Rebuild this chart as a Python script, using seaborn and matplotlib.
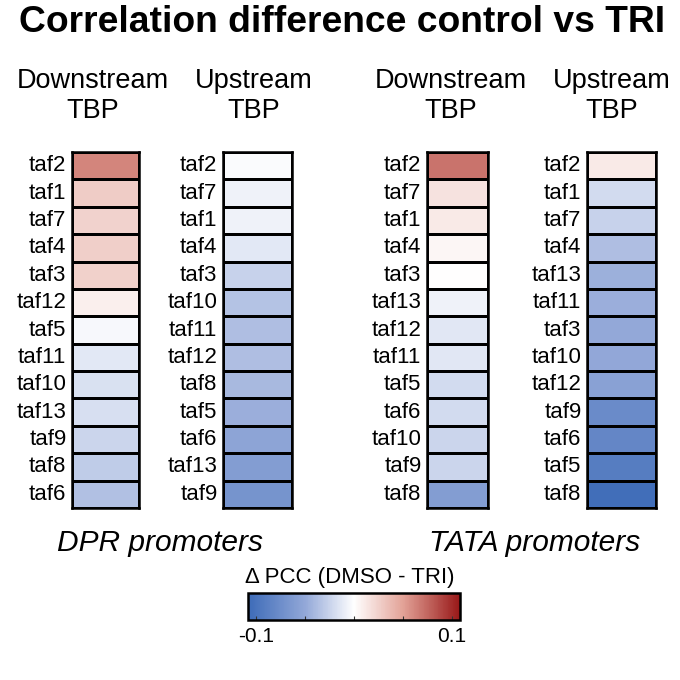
import numpy as np
import pandas as pd
import matplotlib
matplotlib.use("Agg")
import matplotlib.pyplot as plt
import seaborn as sns
from matplotlib.colors import LinearSegmentedColormap, Normalize
from matplotlib.cm import ScalarMappable

# ---------------- data ----------------
dpr_down_labels = ["taf2", "taf1", "taf7", "taf4", "taf3", "taf12", "taf5",
                   "taf11", "taf10", "taf13", "taf9", "taf8", "taf6"]
dpr_down_values = [0.062, 0.027, 0.024, 0.026, 0.025, 0.009, -0.004,
                   -0.013, -0.017, -0.018, -0.024, -0.029, -0.036]

dpr_up_labels = ["taf2", "taf7", "taf1", "taf4", "taf3", "taf10", "taf11",
                 "taf12", "taf8", "taf5", "taf6", "taf13", "taf9"]
dpr_up_values = [-0.002, -0.0075, -0.007, -0.013, -0.026, -0.034, -0.037,
                 -0.037, -0.040, -0.046, -0.054, -0.060, -0.069]

tata_down_labels = ["taf2", "taf7", "taf1", "taf4", "taf3", "taf13", "taf12",
                    "taf11", "taf5", "taf6", "taf10", "taf9", "taf8"]
tata_down_values = [0.070, 0.016, 0.011, 0.005, 0.000, -0.007, -0.014,
                    -0.014, -0.021, -0.021, -0.024, -0.024, -0.060]

tata_up_labels = ["taf2", "taf1", "taf7", "taf4", "taf13", "taf11", "taf3",
                  "taf10", "taf12", "taf9", "taf6", "taf5", "taf8"]
tata_up_values = [0.011, -0.021, -0.026, -0.037, -0.045, -0.046, -0.049,
                  -0.050, -0.056, -0.077, -0.081, -0.091, -0.105]

cbar_ticks = [-0.1, -0.05, 0.0, 0.05, 0.1]
cbar_ticklabels = ["-0.1", "", "", "", "0.1"]
vlim = 0.108

FONT = "Liberation Sans"
plt.rcParams["font.family"] = [FONT, "DejaVu Sans"]

cmap = LinearSegmentedColormap.from_list(
    "dpcc",
    [(0.0, "#3d6bb8"), (0.27, "#93a8d8"), (0.5, "#ffffff"),
     (0.73, "#e3a398"), (1.0, "#981818")])

fig = plt.figure(figsize=(6.8, 6.8), dpi=100)
W = H = 680.0

def box(x0, y0, x1, y1):
    return [x0 / W, 1 - y1 / H, (x1 - x0) / W, (y1 - y0) / H]

panels = [
    (dpr_down_labels, dpr_down_values, box(72, 152, 139, 508)),
    (dpr_up_labels, dpr_up_values, box(223, 152, 292, 508)),
    (tata_down_labels, tata_down_values, box(427, 152, 488, 508)),
    (tata_up_labels, tata_up_values, box(587, 152, 656, 508)),
]

for labels, values, rect in panels:
    ax = fig.add_axes(rect)
    df = pd.DataFrame({"v": values}, index=labels)
    sns.heatmap(df, ax=ax, cmap=cmap, vmin=-vlim, vmax=vlim, cbar=False,
                linewidths=1.8, linecolor="black",
                xticklabels=False, yticklabels=labels)
    ax.set_xlabel("")
    ax.set_ylabel("")
    ax.tick_params(axis="y", length=0, pad=4, labelsize=16)
    for t in ax.get_yticklabels():
        t.set_rotation(0)
        t.set_fontfamily(FONT)
    for s in ax.spines.values():
        s.set_visible(True)
        s.set_linewidth(1.8)
        s.set_color("black")

# Title
fig.text(342 / W, 1 - 22 / H, "Correlation difference control vs TRI",
         ha="center", va="center", fontsize=26.8, fontweight="bold")

# Column headers
for xc, txt in [(93, "Downstream"), (254, "Upstream"), (451, "Downstream"), (612, "Upstream")]:
    fig.text(xc / W, 1 - 96 / H, txt + "\nTBP", ha="center", va="center",
             fontsize=19.5, linespacing=1.17)

# Group labels
fig.text(160 / W, 1 - 543 / H, "DPR promoters", ha="center", va="center",
         fontsize=21.5, style="italic")
fig.text(535 / W, 1 - 543 / H, "TATA promoters", ha="center", va="center",
         fontsize=21.5, style="italic")

# Colorbar
cax = fig.add_axes(box(248, 593, 460, 620))
sm = ScalarMappable(norm=Normalize(vmin=-vlim, vmax=vlim), cmap=cmap)
cb = fig.colorbar(sm, cax=cax, orientation="horizontal", ticks=cbar_ticks)
cb.ax.set_xticklabels(cbar_ticklabels)
cb.ax.tick_params(axis="x", direction="in", length=3, width=0.8,
                  labelsize=15, pad=5, color="#333333")
cb.outline.set_linewidth(1.8)
cb.outline.set_edgecolor("black")
fig.text(350 / W, 1 - 578 / H, "\u0394 PCC (DMSO - TRI)", ha="center",
         va="center", fontsize=16)

fig.savefig("out.png", dpi=100, facecolor="white")
